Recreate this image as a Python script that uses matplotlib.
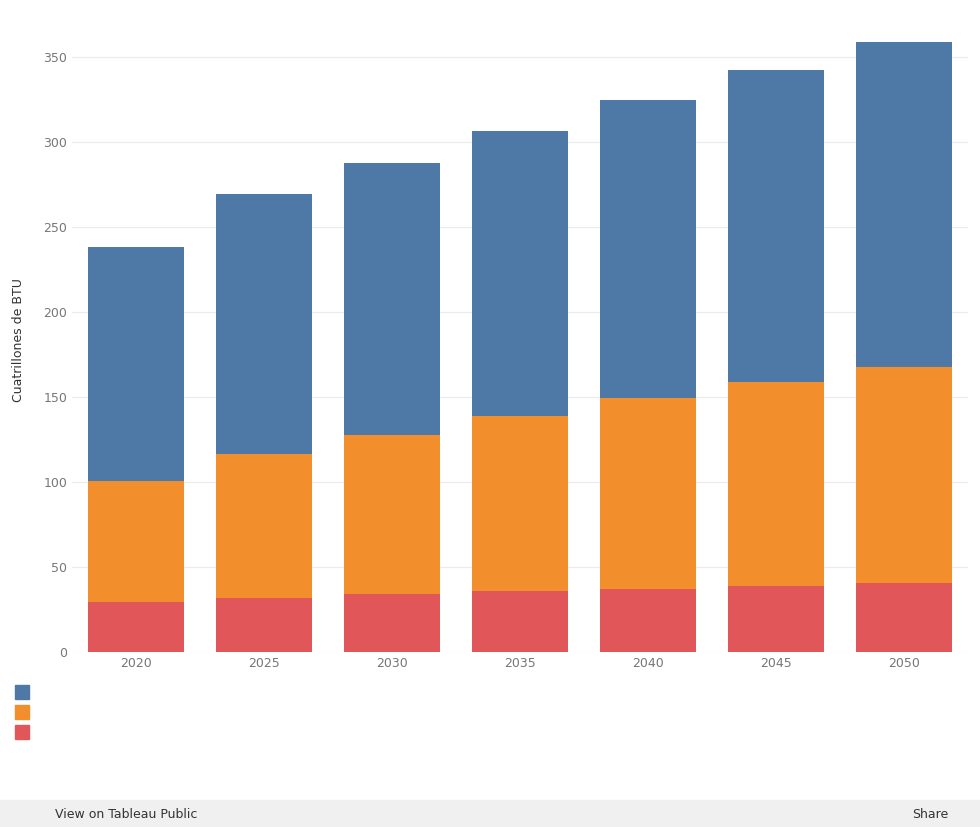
import matplotlib.pyplot as plt
import numpy as np
from matplotlib.patches import Rectangle

years = ['2020', '2025', '2030', '2035', '2040', '2045', '2050']
red = [29.4, 31.8, 34.0, 35.9, 37.0, 38.8, 40.6]
orange_top = [100.6, 116.5, 127.6, 138.8, 149.4, 158.8, 167.6]
blue_top = [238.2, 269.4, 287.6, 306.5, 324.7, 342.4, 358.8]

red = np.array(red)
orange = np.array(orange_top) - red
blue = np.array(blue_top) - np.array(orange_top)

fig = plt.figure(figsize=(9.8, 8.27), dpi=100)
ax = fig.add_axes([72 / 980, 175 / 827, 896 / 980, 624 / 827])
x = np.arange(len(years))
ax.bar(x, red, width=0.75, color='#e15759')
ax.bar(x, orange, bottom=red, width=0.75, color='#f28e2b')
ax.bar(x, blue, bottom=red + orange, width=0.75, color='#4e79a7')

ax.set_xlim(-0.5, 6.5)
ax.set_ylim(0, 367)
ax.set_yticks(range(0, 351, 50))
ax.set_xticks(x)
ax.set_xticklabels(years)
ax.grid(axis='y', color='#ebebeb', lw=0.8)
ax.set_axisbelow(True)
for s in ax.spines.values():
    s.set_visible(False)
ax.tick_params(length=0, colors='#777777', labelsize=9)
ax.set_ylabel('Cuatrillones de BTU', fontsize=9, color='#333333')
ax.yaxis.set_label_coords(-0.052, 0.5)

# legend swatches
for i, c in enumerate(['#4e79a7', '#f28e2b', '#e15759']):
    fig.patches.append(Rectangle((15 / 980, (827 - 699 - i * 20) / 827), 14 / 980, 14 / 827,
                                 color=c, transform=fig.transFigure))

# toolbar
fig.patches.append(Rectangle((0, 0), 1, 27 / 827, color='#f0f0f0', transform=fig.transFigure))
fig.text(55 / 980, 13 / 827, 'View on Tableau Public', fontsize=9, va='center', color='#333333')
fig.text(912 / 980, 13 / 827, 'Share', fontsize=9, va='center', color='#333333')

fig.savefig('out.png', dpi=100)
